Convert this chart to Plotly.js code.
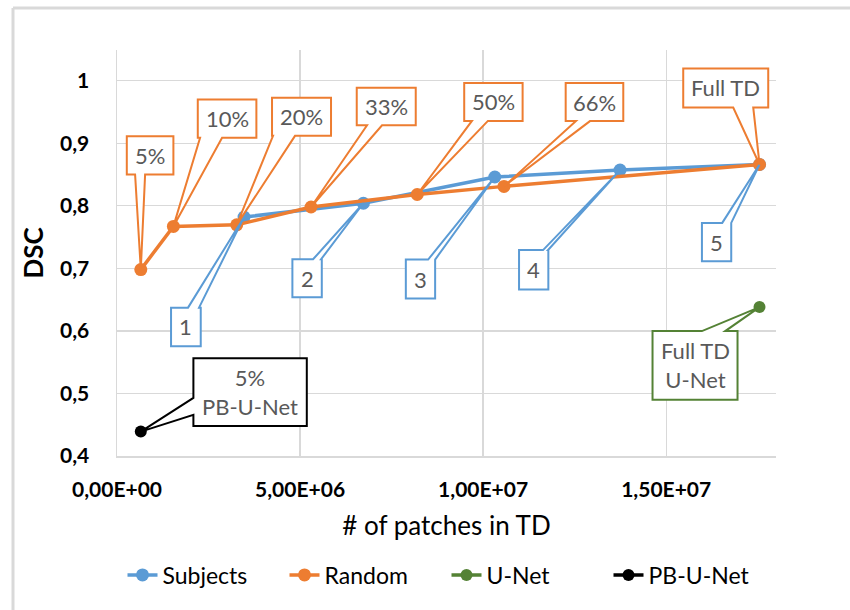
<!DOCTYPE html>
<html>
<head>
<meta charset="utf-8">
<script src="https://cdn.plot.ly/plotly-3.0.1.min.js"></script>
<style>html,body{margin:0;padding:0;background:#fff;}#chart{width:850px;height:610px;}</style>
</head>
<body>
<div id="chart"></div>
<script>
// ---- data ----
const subjX = [3.47e6, 6.73e6, 1.032e7, 1.374e7, 1.755e7];
const subjY = [0.782, 0.804, 0.846, 0.857, 0.866];
const subjLabels = ['1', '2', '3', '4', '5'];

const randX = [6.5e5, 1.54e6, 3.27e6, 5.30e6, 8.2e6, 1.057e7, 1.755e7];
const randY = [0.698, 0.767, 0.7695, 0.798, 0.818, 0.831, 0.866];
const randLabels = ['5%', '10%', '20%', '33%', '50%', '66%', 'Full TD'];

const unetX = [1.755e7];
const unetY = [0.638];
const unetLabels = ['Full TD<br>U-Net'];

const pbX = [6.5e5];
const pbY = [0.439];
const pbLabels = ['5%<br>PB-U-Net'];

const xTickVals = [0, 5e6, 1e7, 1.5e7];
const xTickText = ['0,00E+00', '5,00E+06', '1,00E+07', '1,50E+07'];
const yTickVals = [0.4, 0.5, 0.6, 0.7, 0.8, 0.9, 1.0];
const yTickText = ['0,4', '0,5', '0,6', '0,7', '0,8', '0,9', '1'];

// ---- styles / callout geometry (pixels relative to the point, screen y down) ----
const C_SUBJ = '#5B9BD5', C_RAND = '#ED7D31', C_UNET = '#548235', C_PB = '#000000';
const FONT = 'Lato, "Open Sans", sans-serif';

const randCallouts = [
  {box: [-14, 32.6, -133.3, -95], edge: 'bottom', base: [-5.7, 4.3]},
  {box: [24.4, 83, -127, -88.7], edge: 'bottom', base: [26.7, 48.7]},
  {box: [35.3, 94.3, -127, -89], edge: 'bottom', base: [36.3, 58.3]},
  {box: [45.7, 104.7, -119.3, -81.7], edge: 'bottom', base: [56, 71]},
  {box: [47, 105.4, -111.6, -73.6], edge: 'bottom', base: [54.7, 70.7]},
  {box: [61.7, 119.3, -103.3, -65.3], edge: 'bottom', base: [72, 86]},
  {box: [-76.3, 8.7, -96, -57], edge: 'bottom', base: [-26.3, -6.3]}
];
const subjCallouts = [
  {box: [-73, -43.3, 90.6, 129.3], edge: 'top', base: [-56, -45]},
  {box: [-71, -41.6, 56, 94], edge: 'top', base: [-50.3, -42.3]},
  {box: [-89, -59.7, 82.6, 121.6], edge: 'top', base: [-66.7, -59.7]},
  {box: [-101, -71.7, 80, 119.3], edge: 'top', base: [-77, -72]},
  {box: [-57.6, -28.3, 58.4, 96.7], edge: 'top', base: [-37.3, -28.3]}
];
const unetCallouts = [
  {box: [-107, -22, 24, 92.6], edge: 'top', base: [-57.6, -34.3]}
];
const pbCallouts = [
  {box: [52.6, 166, -73.4, -5.7], edge: 'left', base: [-33.7, -16.7]}
];

function calloutPath(c) {
  const [x0, x1, y0, y1] = c.box;
  const [b1, b2] = c.base;
  let pts;
  if (c.edge === 'bottom') {
    pts = [[x0, y0], [x1, y0], [x1, y1], [Math.max(b1, b2), y1], [0, 0], [Math.min(b1, b2), y1], [x0, y1]];
  } else if (c.edge === 'top') {
    pts = [[x0, y0], [Math.min(b1, b2), y0], [0, 0], [Math.max(b1, b2), y0], [x1, y0], [x1, y1], [x0, y1]];
  } else {
    pts = [[x0, y0], [x1, y0], [x1, y1], [x0, y1], [x0, Math.max(b1, b2)], [0, 0], [x0, Math.min(b1, b2)]];
  }
  return 'M' + pts.map(p => p[0].toFixed(1) + ',' + (-p[1]).toFixed(1)).join(' L') + ' Z';
}

const shapes = [];
const annotations = [];
function addCallouts(xs, ys, labels, geo, color) {
  xs.forEach((x, i) => {
    const c = geo[i];
    shapes.push({
      type: 'path', xref: 'x', yref: 'y', xsizemode: 'pixel', ysizemode: 'pixel',
      xanchor: x, yanchor: ys[i], path: calloutPath(c),
      fillcolor: '#ffffff', line: {color: color, width: 2}, layer: 'above'
    });
    annotations.push({
      x: x, y: ys[i], xref: 'x', yref: 'y', showarrow: false,
      xshift: (c.box[0] + c.box[1]) / 2, yshift: -(c.box[2] + c.box[3]) / 2,
      text: labels[i], align: 'center',
      font: {family: FONT, size: 22, color: '#595959'}
    });
  });
}
addCallouts(subjX, subjY, subjLabels, subjCallouts, C_SUBJ);
addCallouts(randX, randY, randLabels, randCallouts, C_RAND);
addCallouts(unetX, unetY, unetLabels, unetCallouts, C_UNET);
addCallouts(pbX, pbY, pbLabels, pbCallouts, C_PB);

// outer frame of the chart area (light grey)
shapes.push({type: 'line', xref: 'paper', yref: 'paper', x0: -0.1578, x1: -0.1578, y0: 1.1034, y1: -0.40,
  line: {color: '#d9d9d9', width: 3}});
shapes.push({type: 'line', xref: 'paper', yref: 'paper', x0: -0.1578, x1: 1.12, y0: 1.1034, y1: 1.1034,
  line: {color: '#d9d9d9', width: 3}});

const traces = [
  {x: subjX, y: subjY, name: 'Subjects', type: 'scatter', mode: 'lines+markers',
   line: {color: C_SUBJ, width: 3.5}, marker: {color: C_SUBJ, size: 13}},
  {x: randX, y: randY, name: 'Random', type: 'scatter', mode: 'lines+markers',
   line: {color: C_RAND, width: 3.5}, marker: {color: C_RAND, size: 13}},
  {x: unetX, y: unetY, name: 'U-Net', type: 'scatter', mode: 'lines+markers',
   line: {color: C_UNET, width: 3.5}, marker: {color: C_UNET, size: 12}},
  {x: pbX, y: pbY, name: 'PB-U-Net', type: 'scatter', mode: 'lines+markers',
   line: {color: C_PB, width: 3.5}, marker: {color: C_PB, size: 12}}
];

const layout = {
  width: 850, height: 610,
  margin: {l: 117, r: 74, t: 50, b: 154},
  paper_bgcolor: '#ffffff', plot_bgcolor: '#ffffff',
  font: {family: FONT, color: '#000000'},
  showlegend: true,
  legend: {orientation: 'h', x: 0.5, xanchor: 'center', y: -0.293, yanchor: 'middle',
    font: {family: FONT, size: 23, color: '#000000'}, entrywidth: 117, entrywidthmode: 'pixels',
    tracegroupgap: 0},
  xaxis: {
    range: [0, 1.8e7], tickmode: 'array', tickvals: xTickVals,
    ticktext: xTickText.map(t => '<b>' + t + '</b>'),
    tickfont: {family: FONT, size: 21, color: '#000000'},
    showgrid: true, gridcolor: '#d9d9d9', gridwidth: 1.3,
    showline: true, linecolor: '#d9d9d9', linewidth: 1.5, zeroline: false,
    ticks: '', ticklabelstandoff: 14,
    title: {text: '# of patches in TD', font: {family: FONT, size: 26, color: '#000000'}, standoff: 17}
  },
  yaxis: {
    range: [0.4, 1.049], tickmode: 'array', tickvals: yTickVals,
    ticktext: yTickText.map(t => '<b>' + t + '</b>'),
    tickfont: {family: FONT, size: 21, color: '#000000'},
    showgrid: true, gridcolor: '#d9d9d9', gridwidth: 1.3,
    showline: true, linecolor: '#d9d9d9', linewidth: 1.5, zeroline: false,
    ticks: '', ticklabelstandoff: 22,
    title: {text: '<b>DSC</b>', font: {family: FONT, size: 26, color: '#000000'}, standoff: 9}
  },
  shapes: shapes,
  annotations: annotations
};

Plotly.newPlot('chart', traces, layout, {displayModeBar: false, staticPlot: true});
</script>
</body>
</html>
